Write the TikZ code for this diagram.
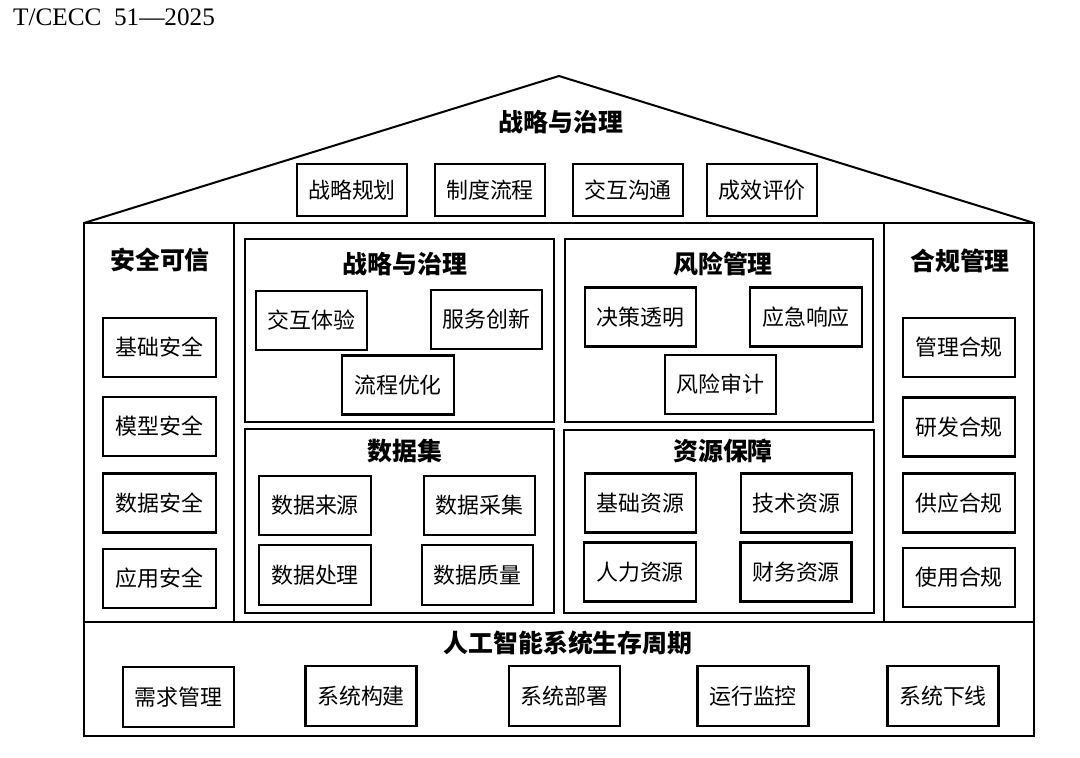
\documentclass[tikz,border=0pt]{standalone}
\usepackage{fontspec}
\usepackage{tikz}
\usetikzlibrary{positioning}
\newfontfamily\cjk{Noto Sans CJK SC}
\newfontfamily\stdfont{Liberation Serif}
\tikzset{
  item/.style={draw=black,fill=white,line width=2.1bp,minimum width=111bp,
               minimum height=59bp,inner sep=0pt,
               font=\cjk\fontsize{22}{26}\selectfont},
  heading/.style={inner sep=0pt,font=\cjk\bfseries\fontsize{25}{29}\selectfont},
  panel/.style={draw=black,line width=2.1bp,inner sep=0pt},
  frame/.style={draw=black,line width=2bp}
}

\begin{document}
\begin{tikzpicture}[x=1bp,y=-1bp]
    \path[use as bounding box,fill=white] (0,0) rectangle (1080,758);

    \node[anchor=base west,inner sep=0pt,font=\stdfont\fontsize{25.3}{28}\selectfont]
      (stdno) at (13,26) {T/CECC\ \ 51—2025};

    % roof and house frame
    \draw[frame] (84,223) -- (559,76) -- (1034,223);
    \draw[frame] (84,223) rectangle (1034,736);
    \draw[frame] (234,223) -- (234,622);
    \draw[frame] (884,223) -- (884,622);
    \draw[frame] (84,622) -- (1034,622);

    \node[heading] (roof) at (561,122) {战略与治理};
    \node[item,minimum height=52bp,minimum width=110bp] (plan) at (352,190) {战略规划};
    \node[item,minimum height=52bp,minimum width=110bp] (rule) at (490,190) {制度流程};
    \node[item,minimum height=52bp,minimum width=110bp] (talk) at (628,190) {交互沟通};
    \node[item,minimum height=52bp,minimum width=110bp] (eval) at (762,190) {成效评价};

    % left column
    \node[heading] (safe) at (160,260) {安全可信};
    \node[item,minimum width=113bp] (safe1) at (159.5,347.5) {基础安全};
    \node[item,minimum width=113bp] (safe2) at (159.5,426.5) {模型安全};
    \node[item,minimum width=113bp] (safe3) at (159.5,503) {数据安全};
    \node[item,minimum width=113bp] (safe4) at (159.5,578.5) {应用安全};

    % right column
    \node[heading] (comp) at (960,261) {合规管理};
    \node[item,minimum width=112bp] (comp1) at (959,347.5) {管理合规};
    \node[item,minimum width=112bp] (comp2) at (959,427) {研发合规};
    \node[item,minimum width=112bp] (comp3) at (959,503) {供应合规};
    \node[item,minimum width=112bp] (comp4) at (959,577.5) {使用合规};

    % four inner panels
    \node[panel,minimum width=309bp,minimum height=183bp] (govbox) at (399.5,330.5) {};
    \node[heading] (gov) at (405,264) {战略与治理};
    \node[item] (gov1) at (311.5,320.5) {交互体验};
    \node[item] (gov2) at (486.5,319.5) {服务创新};
    \node[item,minimum width=112bp] (gov3) at (398,385) {流程优化};

    \node[panel,minimum width=308bp,minimum height=183bp] (riskbox) at (719,330.5) {};
    \node[heading] (risk) at (723,264) {风险管理};
    \node[item] (risk1) at (640.5,317) {决策透明};
    \node[item,minimum width=112bp] (risk2) at (806,317) {应急响应};
    \node[item] (risk3) at (720.5,384.5) {风险审计};

    \node[panel,minimum width=309bp,minimum height=184bp] (databox) at (399.5,521) {};
    \node[heading] (data) at (405,451) {数据集};
    \node[item,minimum width=112bp] (data1) at (315,505.5) {数据来源};
    \node[item] (data2) at (479.5,505.5) {数据采集};
    \node[item,minimum width=112bp,minimum height=60bp] (data3) at (315,575) {数据处理};
    \node[item,minimum height=60bp] (data4) at (477.5,575) {数据质量};

    \node[panel,minimum width=310bp,minimum height=183bp] (resbox) at (719,521.5) {};
    \node[heading] (res) at (723,451) {资源保障};
    \node[item] (res1) at (640.5,503) {基础资源};
    \node[item] (res2) at (796.5,503) {技术资源};
    \node[item,minimum width=112bp] (res3) at (640,572) {人力资源};
    \node[item] (res4) at (796,572) {财务资源};

    % lifecycle band
    \node[heading] (life) at (568,643) {人工智能系统生存周期};
    \node[item,minimum height=60bp] (life1) at (178.5,697) {需求管理};
    \node[item,minimum height=60bp] (life2) at (361,696) {系统构建};
    \node[item,minimum height=60bp] (life3) at (564.5,696) {系统部署};
    \node[item,minimum height=60bp] (life4) at (753,696) {运行监控};
    \node[item,minimum height=60bp] (life5) at (943,696) {系统下线};
  \end{tikzpicture}
\end{document}
